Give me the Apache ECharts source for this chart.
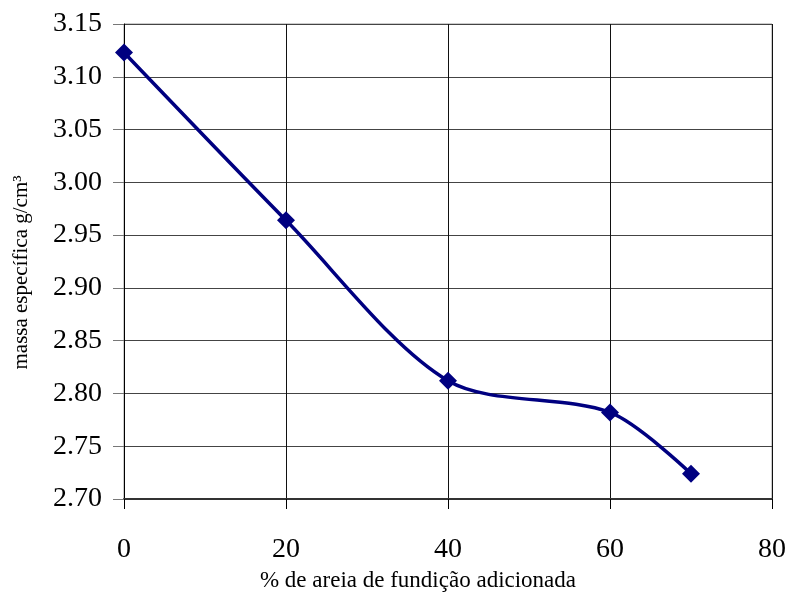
<!DOCTYPE html>
<html>
<head>
<meta charset="utf-8">
<script src="https://cdn.jsdelivr.net/npm/echarts@6/dist/echarts.min.js"></script>
<style>
  html, body { margin: 0; padding: 0; background: #fff; }
  #chart { width: 791px; height: 603px; }
</style>
</head>
<body>
<div id="chart"></div>
<script>
// Percentage of foundry sand added vs. specific mass
const areiaPct = [0, 20, 40, 60, 70];
const massaEspecifica = [3.123, 2.964, 2.812, 2.782, 2.724];
const xTicks = [0, 20, 40, 60, 80];
const yTicks = [2.70, 2.75, 2.80, 2.85, 2.90, 2.95, 3.00, 3.05, 3.10, 3.15];

const serif = '"Liberation Serif", "Times New Roman", serif';

const chart = echarts.init(document.getElementById('chart'), null, { renderer: 'canvas' });
chart.setOption({
  animation: false,
  backgroundColor: '#ffffff',
  grid: { left: 124, right: 19, top: 24, bottom: 104, show: true, borderColor: '#999', borderWidth: 1 },
  xAxis: {
    type: 'value',
    min: xTicks[0],
    max: xTicks[xTicks.length - 1],
    interval: 20,
    name: '% de areia de fundição adicionada',
    nameLocation: 'middle',
    nameGap: 70,
    nameTextStyle: { fontFamily: serif, fontSize: 23, color: '#000', padding: [0, 60, 0, 0] },
    axisLine: { onZero: false, lineStyle: { color: '#333', width: 2 } },
    axisTick: { show: true, length: 10, lineStyle: { color: '#000' } },
    axisLabel: { fontFamily: serif, fontSize: 28, color: '#000', margin: 37 },
    splitLine: { show: true, lineStyle: { color: '#111', width: 1 } }
  },
  yAxis: {
    type: 'value',
    min: yTicks[0],
    max: yTicks[yTicks.length - 1],
    interval: 0.05,
    name: 'massa específica g/cm³',
    nameLocation: 'middle',
    nameGap: 92,
    nameTextStyle: { fontFamily: serif, fontSize: 21, color: '#000', padding: [0, 22, 0, 0] },
    axisLine: { show: true, lineStyle: { color: '#000', width: 1 } },
    axisTick: { show: true, length: 11, lineStyle: { color: '#777' } },
    axisLabel: {
      fontFamily: serif, fontSize: 28, color: '#000', margin: 22,
      formatter: v => v.toFixed(2)
    },
    splitLine: { show: true, lineStyle: { color: '#444', width: 1 } }
  },
  series: [{
    type: 'line',
    data: areiaPct.map((x, i) => [x, massaEspecifica[i]]),
    smooth: 0.3,
    symbol: 'diamond',
    symbolSize: 18,
    lineStyle: { color: '#000080', width: 3.5 },
    itemStyle: { color: '#000080' }
  }]
});
</script>
</body>
</html>
